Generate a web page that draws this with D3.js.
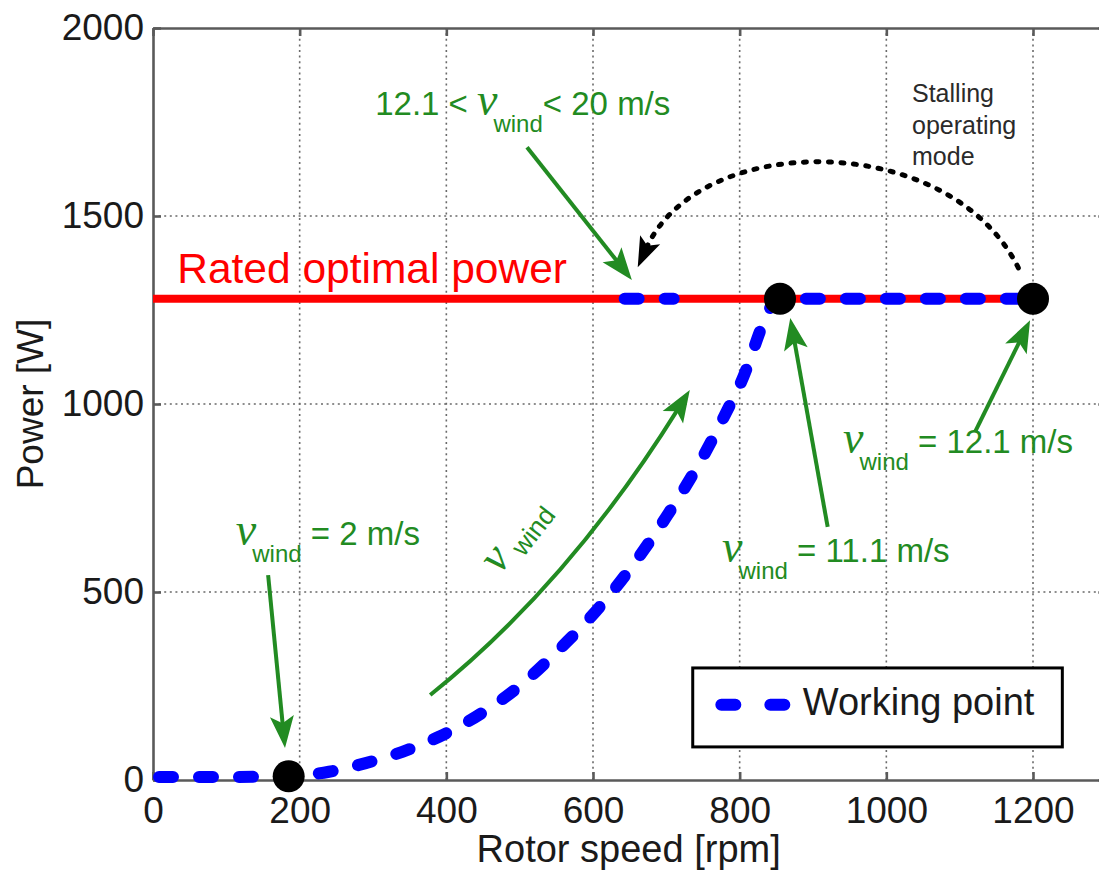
<!DOCTYPE html>
<html>
<head>
<meta charset="utf-8">
<script src="https://cdn.jsdelivr.net/npm/d3@7"></script>
<style>
  body { margin: 0; background: #fff; }
  svg { display: block; font-family: "Liberation Sans", Arial, Helvetica, sans-serif; }
  .grid line { stroke: #6a6a6a; stroke-width: 1.6; stroke-dasharray: 2 3.6; }
  .axis path, .axis line { stroke: #5a5a5a; stroke-width: 2.6; }
  .axis text { fill: #1a1a1a; }
</style>
</head>
<body>
<svg id="chart" width="1099" height="873"></svg>
<script>
// ---- data ----
const xTicks = [0, 200, 400, 600, 800, 1000, 1200];
const yTicks = [0, 500, 1000, 1500, 2000];

// working point curve (rpm, W)
const rotorSpeed   = [0, 100, 185, 240, 290, 340, 390, 450, 500, 550, 600, 650, 700, 750, 800, 855, 1000, 1200];
const workingPower = [8, 8, 10, 22, 45, 75, 115, 180, 250, 340, 440, 560, 700, 860, 1050, 1280, 1280, 1280];

// short piece of working point on the rated line (stalling mode)
const stallSpeed = [635, 710];
const stallPower = [1280, 1280];

// rated optimal power
const ratedSpeed = [0, 1200];
const ratedPower = [1280, 1280];

// black operating points
const markerSpeed = [185, 855, 1200];
const markerPower = [10, 1280, 1280];

const FONT = '"Liberation Sans", Arial, Helvetica, sans-serif';
const SERIF = '"Liberation Serif", "Times New Roman", serif';
const GREEN = '#228b22';

const svg = d3.select('#chart');

const x = d3.scaleLinear().domain([0, 1300]).range([153, 153 + 1300 * 880 / 1200]);
const y = d3.scaleLinear().domain([0, 2000]).range([780, 28]);

const zip = (a, b) => a.map((v, i) => [v, b[i]]);

// clip to the left edge of the plot
svg.append('defs').append('clipPath').attr('id', 'clip')
  .append('rect')
    .attr('x', x(0)).attr('y', 0)
    .attr('width', x(1300) - x(0)).attr('height', 873);

// grid
const grid = svg.append('g').attr('class', 'grid');
grid.selectAll('.vg')
  .data(xTicks.filter(d => d > 0))
  .enter().append('line')
    .attr('x1', d => x(d)).attr('x2', d => x(d))
    .attr('y1', y(0)).attr('y2', y(2000));
grid.selectAll('.hg')
  .data(yTicks.filter(d => d > 0 && d < 2000))
  .enter().append('line')
    .attr('x1', x(0)).attr('x2', x(1300))
    .attr('y1', d => y(d)).attr('y2', d => y(d));

// axes
const styleAxis = g => g.attr('font-size', 37).attr('font-family', FONT);
const fmt = d3.format('d');

svg.append('g')
    .attr('class', 'axis')
    .attr('transform', 'translate(0,' + y(0) + ')')
    .call(d3.axisBottom(x).tickValues(xTicks).tickFormat(fmt).tickSizeInner(-8).tickSizeOuter(0).tickPadding(17))
    .call(styleAxis);

svg.append('g')
    .attr('class', 'axis')
    .attr('transform', 'translate(' + x(0) + ',0)')
    .call(d3.axisLeft(y).tickValues(yTicks).tickFormat(fmt).tickSizeInner(-8).tickSizeOuter(0).tickPadding(9))
    .call(styleAxis);

svg.append('g')
    .attr('class', 'axis')
    .attr('transform', 'translate(0,' + y(2000) + ')')
    .call(d3.axisTop(x).tickValues(xTicks).tickSizeInner(-8).tickSizeOuter(0).tickFormat(''));

svg.append('g')
    .attr('class', 'axis')
    .attr('transform', 'translate(' + x(1300) + ',0)')
    .call(d3.axisRight(y).tickValues(yTicks).tickSizeInner(-8).tickSizeOuter(0).tickFormat(''));

// axis titles
svg.append('text')
    .attr('x', (x(0) + x(1300)) / 2 - 1)
    .attr('y', 862)
    .attr('text-anchor', 'middle')
    .attr('font-size', 38)
    .attr('fill', '#1a1a1a')
    .text('Rotor speed [rpm]');

svg.append('text')
    .attr('transform', 'translate(43,' + y(1000) + ') rotate(-90)')
    .attr('text-anchor', 'middle')
    .attr('font-size', 37)
    .attr('fill', '#1a1a1a')
    .text('Power [W]');

const line = d3.line().x(d => x(d[0])).y(d => y(d[1]));
const plot = svg.append('g').attr('clip-path', 'url(#clip)');

// rated optimal power
plot.append('path')
    .datum(zip(ratedSpeed, ratedPower))
    .attr('d', line)
    .attr('fill', 'none')
    .attr('stroke', '#ff0000')
    .attr('stroke-width', 8);

// working point
const dashStyle = p => p
    .attr('fill', 'none')
    .attr('stroke', '#0000ff')
    .attr('stroke-width', 12)
    .attr('stroke-linecap', 'round')
    .attr('stroke-dasharray', '14 26')
    .attr('stroke-dashoffset', -6);

plot.append('path')
    .datum(zip(rotorSpeed, workingPower))
    .attr('d', d3.line().x(d => x(d[0])).y(d => y(d[1])).curve(d3.curveMonotoneX))
    .call(dashStyle);

plot.append('path')
    .datum(zip(stallSpeed, stallPower))
    .attr('d', line)
    .call(dashStyle);

// black markers
svg.selectAll('.marker')
  .data(zip(markerSpeed, markerPower))
  .enter().append('circle')
    .attr('cx', d => x(d[0]))
    .attr('cy', d => y(d[1]))
    .attr('r', 16)
    .attr('fill', '#000');

// ---- annotations (positions in data units) ----
function arrowHead(g, from, tip, len, half, color) {
  const dx = tip[0] - from[0], dy = tip[1] - from[1];
  const l = Math.hypot(dx, dy), ux = dx / l, uy = dy / l;
  const bx = tip[0] - ux * len, by = tip[1] - uy * len;
  const nx = tip[0] - ux * len * 0.78, ny = tip[1] - uy * len * 0.78;
  g.append('path')
    .attr('d', 'M' + tip[0] + ',' + tip[1] +
               'L' + (bx - uy * half) + ',' + (by + ux * half) +
               'L' + nx + ',' + ny +
               'L' + (bx + uy * half) + ',' + (by - ux * half) + 'Z')
    .attr('fill', color);
  return [tip[0] - ux * len * 0.7, tip[1] - uy * len * 0.7];
}

function straightArrow(from, tip) {
  const p0 = [x(from[0]), y(from[1])], p1 = [x(tip[0]), y(tip[1])];
  const g = svg.append('g');
  const end = arrowHead(g, p0, p1, 32, 12, GREEN);
  g.insert('line', 'path')
    .attr('x1', p0[0]).attr('y1', p0[1])
    .attr('x2', end[0]).attr('y2', end[1])
    .attr('stroke', GREEN).attr('stroke-width', 4);
}

straightArrow([510, 1683], [653, 1330]);   // 12.1 < v < 20
straightArrow([157, 545], [180, 85]);      // 2 m/s
straightArrow([920, 673], [869, 1229]);    // 11.1 m/s
straightArrow([1121, 926], [1196, 1223]);  // 12.1 m/s

// curved "v wind" arrow
{
  const p0 = [x(378), y(226)], c = [x(567), y(521)], p1 = [x(732), y(1037)];
  const g = svg.append('g');
  const end = arrowHead(g, c, p1, 32, 12, GREEN);
  g.insert('path', 'path')
    .attr('d', 'M' + p0 + 'Q' + c + ' ' + end)
    .attr('fill', 'none').attr('stroke', GREEN).attr('stroke-width', 4);
}

// black dashed stalling arc
{
  const p0 = [x(1180), y(1362)], c1 = [x(1087), y(1729)], c2 = [x(746), y(1729)], p1 = [x(661), y(1364)];
  const g = svg.append('g');
  const end = arrowHead(g, c2, p1, 30, 11, '#000');
  g.insert('path', 'path')
    .attr('d', 'M' + p0 + 'C' + c1 + ' ' + c2 + ' ' + end)
    .attr('fill', 'none').attr('stroke', '#000').attr('stroke-width', 5)
    .attr('stroke-linecap', 'round').attr('stroke-dasharray', '3 9.5');
}

// v_wind labels
function windLabel(pos, before, after, fs) {
  const t = svg.append('text')
    .attr('x', x(pos[0])).attr('y', y(pos[1]))
    .attr('fill', GREEN).attr('font-size', fs);
  if (before) t.append('tspan').text(before);
  t.append('tspan').attr('font-family', SERIF).attr('font-style', 'italic')
    .attr('font-size', 46).text('\u03bd');
  t.append('tspan').attr('font-size', 24).attr('dx', -4).attr('dy', 17).text('wind');
  t.append('tspan').attr('dy', -17).text(after);
  return t;
}

windLabel([303, 1769], '12.1 < ', '< 20 m/s', 33);
windLabel([113, 625], null, ' = 2 m/s', 33);
windLabel([776, 580], null, ' = 11.1 m/s', 33);
windLabel([941, 870], null, ' = 12.1 m/s', 33);

// rotated v wind along the curved arrow
{
  const t = svg.append('text')
    .attr('transform', 'translate(' + x(473) + ',' + y(545) + ') rotate(-52)')
    .attr('fill', GREEN);
  t.append('tspan').attr('font-family', SERIF).attr('font-style', 'italic')
    .attr('font-size', 46).text('\u03bd');
  t.append('tspan').attr('font-size', 26).attr('dx', 8).attr('dy', 8).text('wind');
}

// rated optimal power label
svg.append('text')
    .attr('x', x(33)).attr('y', y(1322))
    .attr('fill', '#ff0000')
    .attr('font-size', 42.5)
    .text('Rated optimal power');

// stalling label
const stallLines = ['Stalling', 'operating', 'mode'];
svg.append('g').selectAll('text')
  .data(stallLines)
  .enter().append('text')
    .attr('x', x(1035))
    .attr('y', (d, i) => y(1803) + i * 31.5)
    .attr('font-size', 25)
    .attr('fill', '#2a2a2a')
    .text(d => d);

// legend
const legend = svg.append('g');
legend.append('rect')
    .attr('x', x(736)).attr('y', y(298))
    .attr('width', x(1240) - x(736)).attr('height', y(88) - y(298))
    .attr('fill', '#fff').attr('stroke', '#000').attr('stroke-width', 3);
legend.append('line')
    .attr('x1', x(775)).attr('x2', x(861))
    .attr('y1', y(200)).attr('y2', y(200))
    .attr('stroke', '#0000ff').attr('stroke-width', 12)
    .attr('stroke-linecap', 'round').attr('stroke-dasharray', '14 35');
legend.append('text')
    .attr('x', x(886)).attr('y', y(173))
    .attr('font-size', 38)
    .attr('fill', '#1a1a1a')
    .text('Working point');
</script>
</body>
</html>
